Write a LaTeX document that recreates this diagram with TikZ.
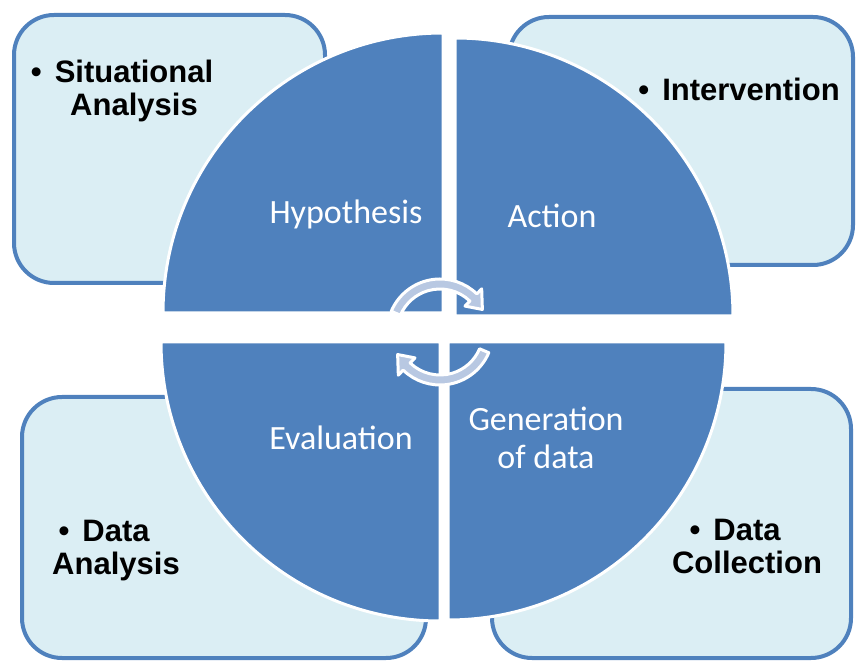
\documentclass[tikz,border=0pt]{standalone}
\usepackage{fontspec}
\setmainfont{Liberation Sans}
\newfontfamily\calibri{Carlito}
\definecolor{quadblue}{RGB}{79,129,189}
\definecolor{boxfill}{RGB}{219,238,244}
\definecolor{arrowfill}{RGB}{184,200,226}
\newcommand{\bulletitem}{\llap{\textbullet\hspace{13pt}}}

\begin{document}
\begin{tikzpicture}[
    x=1pt, y=1pt,
    infobox/.style = {draw=quadblue, line width=4pt, fill=boxfill, rounded corners=40pt},
    quadrant/.style = {fill=quadblue, draw=white, line width=3pt},
    cyclearrow/.style = {fill=arrowfill, draw=white, line width=3pt, line join=round},
    boxtext/.style = {align=center, font=\bfseries\fontsize{31}{33}\selectfont, inner sep=0pt},
    phasetext/.style = {align=center, text=white, font=\calibri\fontsize{34}{38}\selectfont, inner sep=0pt}
    ]
    \useasboundingbox (0,0) rectangle (856,661);
    % boxes behind the circle
    \draw[infobox] (14,378) rectangle (325,646);
    \draw[infobox] (509,396) rectangle (853,644);
    \draw[infobox] (22,3) rectangle (426,264);
    \draw[infobox] (492,3) rectangle (851,272);
    % the four quarters
    \filldraw[quadrant] (443,348) -- ++(-280,0) arc[start angle=180, end angle=90, radius=280] -- cycle;
    \filldraw[quadrant] (455,345) -- ++(0,278) arc[start angle=90, end angle=0, radius=278] -- cycle;
    \filldraw[quadrant] (440,319) -- ++(-279,0) arc[start angle=180, end angle=270, radius=279] -- cycle;
    \filldraw[quadrant] (448,319) -- ++(278,0) arc[start angle=0, end angle=-90, radius=278] -- cycle;
    % circular arrows
    \begin{scope}[shift={(440,329)}]
        \draw[cyclearrow] (157:53) arc[start angle=157, end angle=46, radius=53]
            -- (46:60) -- (28:48) -- (46:36) -- (46:43)
            arc[start angle=46, end angle=157, radius=43] -- cycle;
        \draw[cyclearrow] (-23:53) arc[start angle=-23, end angle=-134, radius=53]
            -- (-134:60) -- (-152:48) -- (-134:36) -- (-134:43)
            arc[start angle=-134, end angle=-23, radius=43] -- cycle;
    \end{scope}
    % labels
    \node[phasetext, anchor=base] (hypothesis) at (346,437) {Hypothesis};
    \node[phasetext, anchor=base] (action) at (552,433) {Action};
    \node[phasetext, anchor=base] (evaluation) at (341,211) {Evaluation};
    \node[phasetext] (generation) at (546,223) {Generation\\of data};
    \node[boxtext] (situational) at (134,570) {\bulletitem Situational\\Analysis};
    \node[boxtext] (intervention) at (751,572) {\bulletitem Intervention};
    \node[boxtext] (dataanalysis) at (116,110) {\bulletitem Data\\Analysis};
    \node[boxtext] (datacollection) at (747,115) {\bulletitem Data\\Collection};
\end{tikzpicture}
\end{document}
